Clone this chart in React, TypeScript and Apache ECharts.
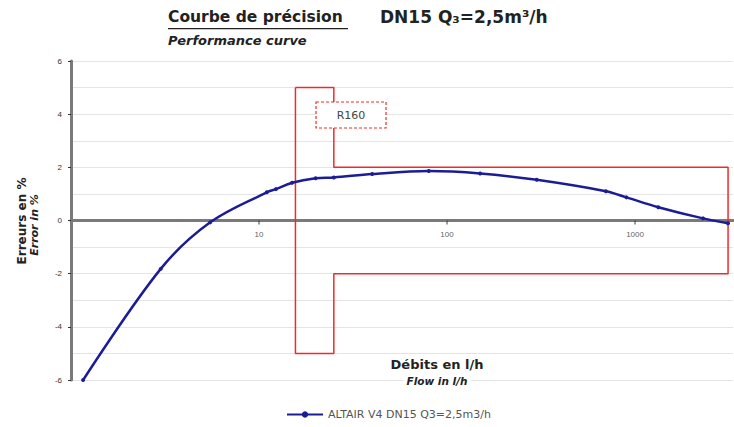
import { useEffect, useRef } from 'react';
import * as echarts from 'echarts';

// Measured curve (flow in l/h, error in %)
const flowRates = [1.16, 3, 5.5, 11, 12.3, 15, 20, 25, 40, 80, 150, 300, 700, 900, 1330, 2300, 3125];
const errors = [-6.0, -1.82, -0.07, 1.06, 1.18, 1.42, 1.59, 1.62, 1.75, 1.86, 1.77, 1.53, 1.1, 0.87, 0.5, 0.08, -0.1];

// Maximum permissible error envelope (R160: Q1 = 15.625, Q2 = 25, Q4 = 3125)
const envelopeFlow = [15.625, 15.625, 25, 25, 3125, 3125, 25, 25, 15.625];
const envelopeError = [5, -5, -5, -2, -2, 2, 2, 5, 5];

// X tick labels (drawn on the zero line)
const xTickLabels = [10, 100, 1000];

const seriesName = 'ALTAIR V4 DN15 Q3=2,5m3/h';
const FONT = '"DejaVu Sans", Arial, sans-serif';
const FONT_AX = '"Liberation Sans", Arial, sans-serif';

export default function App() {
  const ref = useRef<HTMLDivElement>(null);
  useEffect(() => {
    if (!ref.current) return;
    const chart = echarts.init(ref.current, undefined, { renderer: 'svg' });
    chart.setOption({
      animation: false,
      backgroundColor: '#ffffff',
      textStyle: { fontFamily: FONT },
      grid: { left: 71, top: 61, width: 662, height: 319, outerBoundsMode: 'none', containLabel: false },
      legend: {
        data: [seriesName],
        left: 281,
        top: 404,
        itemWidth: 36,
        itemHeight: 8,
        itemGap: 4,
        textStyle: { fontSize: 11, color: '#555', fontFamily: FONT },
      },
      xAxis: {
        type: 'log',
        logBase: 10,
        min: 1,
        max: 3320,
        axisLine: { onZero: true, lineStyle: { color: '#7a7a7a', width: 3 } },
        axisTick: { show: false },
        axisLabel: { show: false },
        splitLine: { show: false },
        minorTick: { show: false },
        minorSplitLine: { show: false },
      },
      yAxis: {
        type: 'value',
        min: -6,
        max: 6,
        interval: 2,
        axisLine: { show: true, lineStyle: { color: '#7a7a7a', width: 3 } },
        axisTick: { show: true, length: 3, lineStyle: { color: '#333' } },
        axisLabel: { fontSize: 8, color: '#333', margin: 9, fontFamily: FONT_AX },
        splitLine: { show: true, lineStyle: { color: '#e4e4e4' } },
        minorTick: { show: false, splitNumber: 2 },
        minorSplitLine: { show: true, lineStyle: { color: '#e4e4e4' } },
      },
      series: [
        {
          name: 'envelope',
          type: 'line',
          data: envelopeFlow.map((f, i) => [f, envelopeError[i]]),
          showSymbol: false,
          symbol: 'none',
          silent: true,
          lineStyle: { color: '#f02a2a', width: 1.5 },
          z: 2,
        },
        {
          name: seriesName,
          type: 'line',
          data: flowRates.map((f, i) => [f, errors[i]]),
          smooth: 0.35,
          symbol: 'circle',
          symbolSize: 4,
          itemStyle: { color: '#1c1c96' },
          lineStyle: { color: '#1c1c96', width: 2.5 },
          z: 3,
        },
        {
          name: 'xticks',
          type: 'scatter',
          data: xTickLabels.map((v) => [v, 0]),
          symbol: 'rect',
          symbolSize: [1.2, 4],
          symbolOffset: [0, 2],
          itemStyle: { color: '#333' },
          silent: true,
          z: 4,
          label: {
            show: true,
            position: 'bottom',
            distance: 6,
            fontSize: 8,
            color: '#333',
            fontFamily: FONT_AX,
            formatter: (p: any) => String(p.value[0]),
          },
        },
      ],
      graphic: [
        {
          type: 'text',
          left: 168,
          top: 9,
          style: { text: 'Courbe de précision', font: `bold 15.5px ${FONT}`, fill: '#222' },
        },
        { type: 'rect', shape: { x: 168, y: 28, width: 180, height: 1.3 }, style: { fill: '#222' } },
        {
          type: 'text',
          left: 380,
          top: 8,
          style: { text: 'DN15 Q₃=2,5m³/h', font: `bold 17px ${FONT}`, fill: '#222' },
        },
        {
          type: 'text',
          left: 168,
          top: 34,
          style: { text: 'Performance curve', font: `italic bold 13px ${FONT}`, fill: '#222' },
        },
        {
          type: 'text',
          x: 22,
          y: 221,
          rotation: Math.PI / 2,
          style: {
            text: 'Erreurs en %',
            font: `bold 12px ${FONT}`,
            fill: '#222',
            align: 'center',
            verticalAlign: 'middle',
          },
        },
        {
          type: 'text',
          x: 34,
          y: 225,
          rotation: Math.PI / 2,
          style: {
            text: 'Error in %',
            font: `italic bold 11px ${FONT}`,
            fill: '#222',
            align: 'center',
            verticalAlign: 'middle',
          },
        },
        {
          type: 'text',
          x: 437,
          y: 364,
          z: 5,
          style: {
            text: 'Débits en l/h',
            font: `bold 13px ${FONT}`,
            fill: '#222',
            align: 'center',
            verticalAlign: 'middle',
          },
        },
        {
          type: 'text',
          x: 437,
          y: 381,
          z: 5,
          style: {
            text: 'Flow in l/h',
            font: `italic bold 10.5px ${FONT}`,
            fill: '#222',
            align: 'center',
            verticalAlign: 'middle',
            backgroundColor: '#ffffff',
            padding: [1, 3],
          },
        },
        {
          type: 'rect',
          shape: { x: 316, y: 102, width: 70, height: 26 },
          style: { fill: '#ffffff', stroke: '#f02a2a', lineWidth: 1.2, lineDash: [3, 2] },
          z: 10,
        },
        {
          type: 'text',
          x: 351,
          y: 115,
          z: 11,
          style: {
            text: 'R160',
            font: `11px ${FONT}`,
            fill: '#444',
            align: 'center',
            verticalAlign: 'middle',
          },
        },
      ],
    });
    return () => chart.dispose();
  }, []);
  return (
    <div
      ref={ref}
      style={{ position: 'fixed', left: 0, top: 0, width: 734, height: 427 }}
    />
  );
}
